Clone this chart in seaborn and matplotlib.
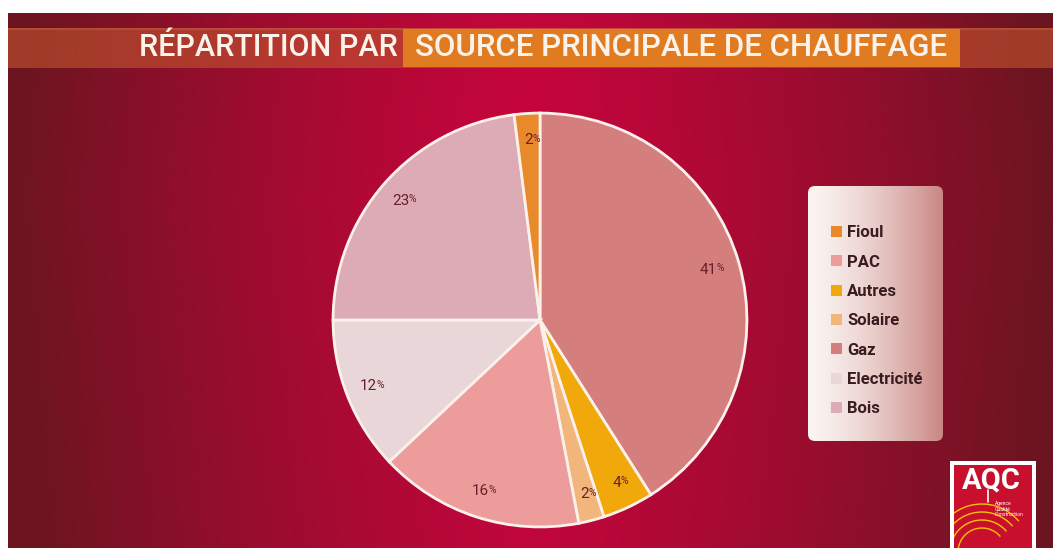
import numpy as np
import matplotlib
matplotlib.use("Agg")
import matplotlib.pyplot as plt
import seaborn as sns
from matplotlib.patches import Rectangle, FancyBboxPatch, Patch, Arc
from matplotlib.colors import to_rgb

# data, in drawing order (clockwise from 12 o'clock)
sources = ["Gaz", "Autres", "Solaire", "PAC", "Electricité", "Bois", "Fioul"]
shares = [41, 4, 2, 16, 12, 23, 2]
colors = ["#d47f7e", "#f0a80a", "#f2b57c", "#ec9c9a", "#e8d6d8", "#dcabb5", "#e8892c"]
legend_order = ["Fioul", "PAC", "Autres", "Solaire", "Gaz", "Electricité", "Bois"]

title_left = "RÉPARTITION PAR"
title_right = "SOURCE PRINCIPALE DE CHAUFFAGE"

W, H = 1053, 548
sns.set_theme(style="white")
plt.rcParams["font.family"] = ["Roboto", "DejaVu Sans"]

fig = plt.figure(figsize=(W / 100, H / 100), dpi=100)
fig.patch.set_facecolor("white")

# background axes in pixel coordinates
bg = fig.add_axes([0, 0, 1, 1])
bg.set_xlim(0, W)
bg.set_ylim(H, 0)
bg.axis("off")

# red gradient, light crimson in the middle, dark at the edges
xs = np.linspace(0, 1, 400)
ys = np.linspace(0, 1, 120)
gx, gy = np.meshgrid(xs, ys)
t = np.clip(np.abs(gx - 0.5) / 0.5, 0, 1) ** 1.3
t = np.clip(t + 0.12 * np.abs(gy - 0.35), 0, 1)
c_mid = np.array(to_rgb("#c6053d"))
c_edge = np.array(to_rgb("#6c1520"))
grad = c_mid[None, None, :] * (1 - t[..., None]) + c_edge[None, None, :] * t[..., None]
bg.imshow(grad, extent=(8, W, H, 13), aspect="auto", zorder=0)

# title band
bg.add_patch(Rectangle((8, 28), W - 8, 40, color="#c2562e", alpha=0.6, lw=0, zorder=1))
bg.add_patch(Rectangle((8, 28), W - 8, 2, color="#d0704a", alpha=0.35, lw=0, zorder=1))
bg.add_patch(Rectangle((403, 29), 557, 38, color="#e07b22", lw=0, zorder=2))
bg.text(398, 48, title_left, color="#fbf3ea", fontsize=22, ha="right", va="center",
        fontweight="medium", zorder=3)
bg.text(681, 48, title_right, color="#fbf3ea", fontsize=22.5, ha="center", va="center",
        fontweight="medium", zorder=3)

# legend box with white -> pink gradient
box = FancyBboxPatch((808, 186), 135, 255, boxstyle="round,pad=0,rounding_size=7",
                     transform=bg.transData, facecolor="none", lw=0, zorder=2)
bg.add_patch(box)
lx = np.linspace(0, 1, 200)
lt = lx ** 1.4
c_a = np.array(to_rgb("#fbf4f1"))
c_b = np.array(to_rgb("#c98784"))
lgrad = c_a[None, None, :] * (1 - lt[None, :, None]) + c_b[None, None, :] * lt[None, :, None]
lgrad = np.repeat(lgrad, 10, axis=0)
im = bg.imshow(lgrad, extent=(808, 943, 441, 186), aspect="auto", zorder=2)
im.set_clip_path(box)

# AQC logo
bg.add_patch(Rectangle((950, 461), 86, 90, color="white", lw=0, zorder=2))
logo = Rectangle((954, 465), 78, 90, color="#c8102e", lw=0, zorder=3)
bg.add_patch(logo)
for r in [24, 32, 40, 48]:
    a = Arc((982, 552), 2 * r, 2 * r, theta1=190, theta2=320, color="#f5c400", lw=1.0, zorder=4)
    bg.add_patch(a)
    a.set_clip_path(logo)
bg.plot([988, 988], [490, 502], color="white", lw=1.2, zorder=5)
bg.text(991, 481, "AQC", color="white", fontsize=21, fontweight="bold", ha="center",
        va="center", zorder=5)
bg.text(995, 509, "Agence\nQualité\nConstruction", color="white", fontsize=3.6,
        ha="left", va="center", linespacing=1.2, zorder=5)

# pie
cx, cy, rad = 540, 320, 209
ax = fig.add_axes([(cx - rad) / W, (H - cy - rad) / H, 2 * rad / W, 2 * rad / H])
ax.set_facecolor("none")
wedges, _ = ax.pie(shares, colors=colors, startangle=90, counterclock=False,
                   wedgeprops=dict(edgecolor="#fbf1ea", linewidth=2))
ax.set_xlim(-1.01, 1.01)
ax.set_ylim(-1.01, 1.01)
ax.axis("off")

label_color = "#6a1e2a"
for w, v in zip(wedges, shares):
    ang = np.deg2rad((w.theta1 + w.theta2) / 2)
    r = 0.87
    x, y = r * np.cos(ang), r * np.sin(ang)
    ax.annotate(f"{v}", (x, y), xytext=(3, 0), textcoords="offset points",
                ha="right", va="center", fontsize=11, color=label_color)
    ax.annotate("%", (x, y), xytext=(2.9, 1.2), textcoords="offset points",
                ha="left", va="center", fontsize=7.5, color=label_color)

# legend
col_map = dict(zip(sources, colors))
handles = [Patch(facecolor=col_map[s], edgecolor="none", label=s) for s in legend_order]
fig.legend(handles=handles, loc="upper left", bbox_to_anchor=(823 / W, 1 - 217 / H),
           bbox_transform=fig.transFigure, frameon=False,
           handlelength=0.65, handleheight=0.65, handletextpad=0.3,
           labelspacing=0.86, borderpad=0, prop=dict(size=12, weight="bold"),
           labelcolor="#3a1c20")

fig.savefig("out.png", dpi=100, facecolor=fig.get_facecolor())
